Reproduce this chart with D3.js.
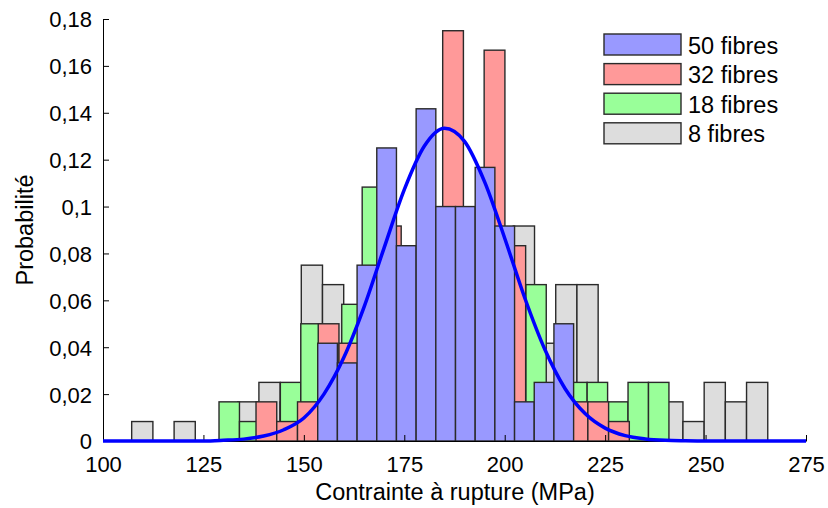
<!DOCTYPE html>
<html><head><meta charset="utf-8">
<script src="https://cdn.jsdelivr.net/npm/d3@7"></script>
<style>
body{margin:0;background:#fff}
text{font-family:Arial,"Liberation Sans",sans-serif;fill:#000}
</style>
</head><body>
<svg id="chart" width="828" height="508"></svg>
<script>
// ---------- data ----------
const seriesNames = ["50 fibres", "32 fibres", "18 fibres", "8 fibres"];
const seriesColors = ["#9999ff", "#ff9999", "#99ff99", "#dddddd"];

// 50 fibres
const edges50 = [153.45,158.35,163.25,168.15,173.05,177.95,182.85,187.75,192.65,197.55,202.45,207.35,212.25,217.15];
const prob50  = [0.0417,0.0333,0.0750,0.1250,0.0833,0.1417,0.1000,0.1000,0.1167,0.0917,0.0167,0.0250,0.0500];

// 32 fibres
const edges32 = [138.09,143.25,148.42,153.58,158.74,163.91,169.07,174.23,179.39,184.56,189.72,194.88,200.05,205.21,210.37,215.54,220.70,225.86,231.02];
const prob32  = [0.0167,0.0083,0.0167,0.0500,0.0417,0.0667,0.0917,0.0750,0.0833,0.1750,0.0833,0.1667,0.0833,0,0,0.0167,0.0167,0.0083];

// 18 fibres
const edges18 = [128.88,133.97,139.06,144.15,149.24,154.34,159.43,164.52,169.61,174.70,179.79,184.88,189.97,195.06,200.15,205.25,210.34,215.43,220.52,225.61,230.70,235.79,240.88];
const prob18  = [0.0167,0.0083,0,0.0250,0.0500,0.0333,0.0583,0.1083,0.0750,0.0833,0.0917,0.0917,0.0833,0.0750,0.0167,0.0667,0,0.0250,0.0250,0.0167,0.0250,0.0250];

// 8 fibres
const edges8 = [107.14,112.42,117.70,122.97,128.25,133.53,138.81,144.09,149.36,154.64,159.92,165.20,170.48,175.75,181.03,186.31,191.59,196.87,202.14,207.42,212.70,217.98,223.26,228.53,233.81,239.09,244.37,249.65,254.92,260.20,265.48];
const prob8  = [0.0083,0,0.0083,0,0,0.0167,0.0250,0.0167,0.0750,0.0667,0.0417,0.0583,0.0583,0.0500,0.0500,0.0500,0.0500,0.0417,0.0917,0.0417,0.0667,0.0667,0.0083,0.0083,0.0083,0.0167,0.0083,0.0250,0.0167,0.0250];

// fitted curve
const curveX = [100,125,130,135,140,145,150,155,160,165,170,175,180,185,190,195,200,205,210,215,220,225,230,235,240,245,250,275];
const curveP = [0,0,0.0003,0.0008,0.0021,0.0048,0.0098,0.0200,0.0358,0.0572,0.0825,0.1072,0.1258,0.1334,0.1278,0.1105,0.0865,0.0610,0.0390,0.0224,0.0117,0.0055,0.0023,0.0009,0.0003,0.0001,0,0];

// axes
const xTicks = [100,125,150,175,200,225,250,275];
const yTicks = [0,0.02,0.04,0.06,0.08,0.1,0.12,0.14,0.16,0.18];
const yTickLabels = ["0","0,02","0,04","0,06","0,08","0,1","0,12","0,14","0,16","0,18"];
const xLabel = "Contrainte à rupture (MPa)";
const yLabel = "Probabilité";

// ---------- drawing ----------
const svg = d3.select("#chart");
const x = d3.scaleLinear().domain([100, 275]).range([103, 806]);
const y = d3.scaleLinear().domain([0, 0.18]).range([441, 19]);

const drawOrder = [
  {edges: edges8,  vals: prob8,  color: seriesColors[3]},
  {edges: edges18, vals: prob18, color: seriesColors[2]},
  {edges: edges32, vals: prob32, color: seriesColors[1]},
  {edges: edges50, vals: prob50, color: seriesColors[0]}
];

drawOrder.forEach(s => {
  const bins = s.vals.map((v, i) => ({x0: s.edges[i], x1: s.edges[i + 1], v}))
                     .filter(b => b.v > 0);
  svg.append("g").selectAll("rect").data(bins).join("rect")
    .attr("x", d => x(d.x0))
    .attr("width", d => x(d.x1) - x(d.x0))
    .attr("y", d => y(d.v))
    .attr("height", d => y(0) - y(d.v))
    .attr("fill", s.color)
    .attr("stroke", "#2a2a2a")
    .attr("stroke-width", 1.4);
});

// axes
const xAxis = d3.axisBottom(x).tickValues(xTicks).tickSizeInner(-6).tickSizeOuter(0).tickPadding(15)
  .tickFormat(d3.format("d"));
const gx = svg.append("g").attr("transform", `translate(0,${y(0)})`).call(xAxis);
gx.selectAll("text").style("font-size", "22px").attr("fill", "#000");
gx.selectAll("line,path").attr("stroke", "#000");

const yAxis = d3.axisLeft(y).tickValues(yTicks).tickSizeInner(-6).tickSizeOuter(0).tickPadding(11)
  .tickFormat((d, i) => yTickLabels[i]);
const gy = svg.append("g").attr("transform", `translate(${x(100)},0)`).call(yAxis);
gy.selectAll("text").style("font-size", "22px").attr("dy", "0.36em").attr("fill", "#000");
gy.selectAll("line,path").attr("stroke", "#000");

// curve
const line = d3.line().x((d, i) => x(curveX[i])).y(d => y(d)).curve(d3.curveMonotoneX);
svg.append("path").datum(curveP).attr("d", line)
  .attr("fill", "none").attr("stroke", "#0000ff").attr("stroke-width", 3.5)
  .attr("stroke-linejoin", "round");

// labels
svg.append("text").attr("x", 455).attr("y", 500).attr("text-anchor", "middle")
  .style("font-size", "23.5px").text(xLabel);
svg.append("text").attr("transform", "translate(33,230) rotate(-90)").attr("text-anchor", "middle")
  .style("font-size", "23.5px").text(yLabel);

// legend
const lg = svg.append("g");
seriesNames.forEach((name, i) => {
  const top = 34 + i * 29.6;
  lg.append("rect").attr("x", 604).attr("y", top).attr("width", 77).attr("height", 21)
    .attr("fill", seriesColors[i]).attr("stroke", "#2a2a2a").attr("stroke-width", 1.4);
  lg.append("text").attr("x", 688).attr("y", top + 19.5)
    .style("font-size", "23.5px").text(name);
});
</script>
</body></html>
